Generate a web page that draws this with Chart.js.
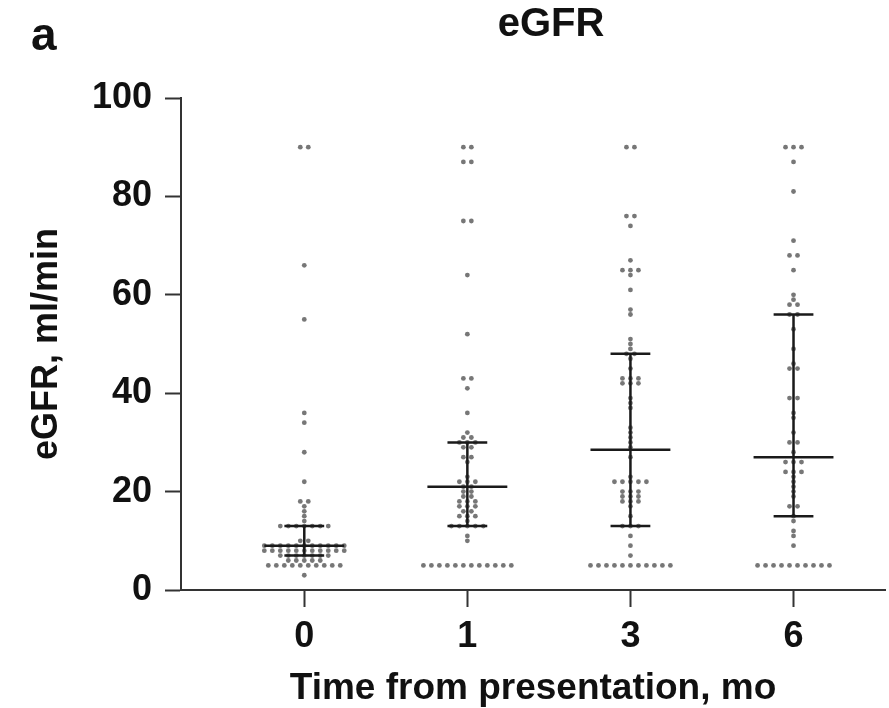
<!DOCTYPE html>
<html>
<head>
<meta charset="utf-8">
<script src="https://cdn.jsdelivr.net/npm/chart.js@4.4.1/dist/chart.umd.min.js"></script>
<style>
  html, body { margin: 0; padding: 0; background: #fff; }
  #wrap { width: 889px; height: 708px; }
</style>
</head>
<body>
<div id="wrap"><canvas id="egfrChart" width="889" height="708"></canvas></div>
<script>
// time points (months after presentation)
const timeLabels = ['0', '1', '3', '6'];

// eGFR values (ml/min), one list per time point
const egfrMonth0 = [90, 90, 66, 55, 36, 34, 28, 22, 18, 18, 17, 16, 15, 14,
    13, 13, 13, 13, 13, 13, 13, 10, 10,
    9, 9, 9, 9, 9, 9, 9, 9, 9, 9, 9,
    8, 8, 8, 8, 8, 8, 8, 8, 8, 8, 8,
    7, 7, 7, 7, 7, 7, 7, 6, 6, 6, 6, 6,
    5, 5, 5, 5, 5, 5, 5, 5, 5, 5, 3];
const egfrMonth1 = [90, 90, 87, 87, 75, 75, 64, 52, 43, 43, 41, 36, 32, 31, 31,
    30, 30, 30, 29, 29, 27, 27, 26, 23, 22, 22, 22, 21, 21, 20, 20, 19, 19,
    18, 18, 18, 17, 17, 17, 16, 16, 15, 15, 15, 14, 13, 13, 13, 13, 13, 11, 10,
    5, 5, 5, 5, 5, 5, 5, 5, 5, 5, 5, 5];
const egfrMonth3 = [90, 90, 76, 76, 74, 67, 65, 65, 65, 64, 61, 57, 56, 51, 50,
    49, 48, 48, 47, 45, 43, 43, 43, 42, 42, 42, 39, 38, 37, 33, 32, 31, 30, 29,
    27, 23, 22, 22, 22, 22, 22, 20, 20, 20, 19, 19, 19, 18, 18, 18, 17, 15,
    13, 13, 13, 11, 9, 7,
    5, 5, 5, 5, 5, 5, 5, 5, 5, 5, 5];
const egfrMonth6 = [90, 90, 90, 87, 81, 71, 68, 68, 65, 60, 59, 58, 58, 56, 56,
    53, 49, 46, 45, 45, 39, 39, 36, 35, 32, 30, 30, 28, 26, 26, 26, 24, 24, 24,
    23, 22, 21, 20, 19, 17, 17, 15, 14, 12, 11, 9,
    5, 5, 5, 5, 5, 5, 5, 5, 5, 5];

// median and interquartile range per time point
const medians = [9, 21, 28.5, 27];
const lowerQ = [7, 13, 13, 15];
const upperQ = [13, 30, 48, 56];

const groups = [egfrMonth0, egfrMonth1, egfrMonth3, egfrMonth6];

const DOT_STEP = 0.049;   // horizontal gap between dots sharing a value (x units)
const BAR_HALF = 0.245;   // half width of the median line
const CAP_HALF = 0.122;   // half width of the IQR caps

// spread equal values sideways, centred on the group
function swarm(values, gi) {
    const counts = {};
    values.forEach(v => { counts[v] = (counts[v] || 0) + 1; });
    const pts = [];
    Object.keys(counts).forEach(k => {
        const n = counts[k];
        for (let i = 0; i < n; i++) {
            pts.push({ x: gi + (i - (n - 1) / 2) * DOT_STEP, y: Number(k) });
        }
    });
    return pts;
}

function summaryLines(i) {
    return [
        { x: i - BAR_HALF, y: medians[i] }, { x: i + BAR_HALF, y: medians[i] }, { x: i, y: null },
        { x: i - CAP_HALF, y: upperQ[i] }, { x: i + CAP_HALF, y: upperQ[i] }, { x: i, y: null },
        { x: i, y: upperQ[i] }, { x: i, y: lowerQ[i] }, { x: i, y: null },
        { x: i - CAP_HALF, y: lowerQ[i] }, { x: i + CAP_HALF, y: lowerQ[i] }
    ];
}

const FONT = '"Liberation Sans", Arial, sans-serif';
Chart.defaults.font.family = FONT;
Chart.defaults.color = '#111';

const datasets = [];
groups.forEach((vals, gi) => {
    datasets.push({
        label: 'IQR ' + timeLabels[gi],
        data: summaryLines(gi),
        showLine: true,
        borderColor: '#1a1a1a',
        borderWidth: 2.5,
        pointRadius: 0,
        spanGaps: false,
        order: 0
    });
});
groups.forEach((vals, gi) => {
    datasets.push({
        label: 'Month ' + timeLabels[gi],
        data: swarm(vals, gi),
        backgroundColor: '#777',
        borderWidth: 0,
        pointRadius: 2.4,
        order: 1
    });
});

// panel letter and chart heading
const panelText = {
    id: 'panelText',
    afterDraw(chart) {
        const ctx = chart.ctx;
        ctx.save();
        ctx.fillStyle = '#111';
        ctx.textBaseline = 'alphabetic';
        ctx.textAlign = 'left';
        ctx.font = 'bold 46px ' + FONT;
        ctx.fillText('a', 31, 50);
        ctx.textAlign = 'center';
        ctx.font = 'bold 40px ' + FONT;
        ctx.fillText('eGFR', 551, 36);
        ctx.restore();
    }
};

new Chart(document.getElementById('egfrChart'), {
    type: 'scatter',
    data: { datasets: datasets },
    plugins: [panelText],
    options: {
        responsive: false,
        animation: false,
        layout: { padding: { top: 98, right: 0, bottom: 0, left: 0 } },
        plugins: {
            legend: { display: false },
            tooltip: { enabled: false }
        },
        scales: {
            x: {
                type: 'linear',
                min: -0.756,
                max: 3.561,
                afterBuildTicks: (scale) => { scale.ticks = [0, 1, 2, 3].map(v => ({ value: v })); },
                afterFit: (scale) => { scale.height = 118; },
                ticks: {
                    autoSkip: false,
                    maxRotation: 0,
                    padding: 8,
                    font: { size: 36, weight: 'bold' },
                    color: '#111',
                    callback: (v) => timeLabels[v]
                },
                grid: { drawOnChartArea: false, tickLength: 17, tickColor: '#333', tickWidth: 2 },
                border: { color: '#333', width: 2 },
                title: {
                    display: true,
                    text: 'Time from presentation, mo',
                    font: { size: 37, weight: 'bold', lineHeight: 1 },
                    color: '#111',
                    padding: { top: 0, bottom: 1 }
                }
            },
            y: {
                min: 0,
                max: 100,
                afterFit: (scale) => { scale.width = 181; },
                ticks: {
                    stepSize: 20,
                    padding: 13,
                    font: { size: 36, weight: 'bold' },
                    color: '#111'
                },
                grid: { drawOnChartArea: false, tickLength: 16, tickColor: '#333', tickWidth: 2 },
                border: { color: '#333', width: 2 },
                title: {
                    display: true,
                    text: 'eGFR, ml/min',
                    font: { size: 36, weight: 'bold', lineHeight: 1 },
                    color: '#111',
                    padding: { top: 29, bottom: 0 }
                }
            }
        }
    }
});
</script>
</body>
</html>
